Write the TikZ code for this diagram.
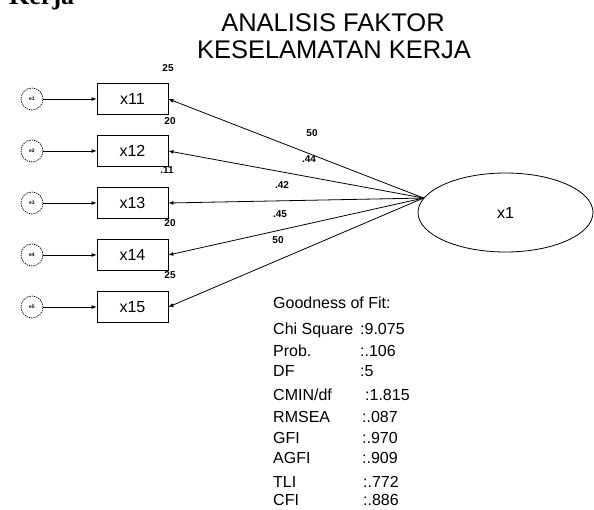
\documentclass[tikz,border=0pt]{standalone}
\usepackage{fontspec}
\setmainfont{Liberation Sans}
\newfontfamily\capserif{Liberation Serif}
\usetikzlibrary{arrows.meta,shapes.geometric}

\begin{document}
\begin{tikzpicture}[x=1pt,y=1pt,
  indic/.style={draw, line width=0.8pt, minimum width=71pt, minimum height=31pt, inner sep=0pt, font=\fontsize{16}{16}\selectfont},
  errc/.style={draw, circle, line width=0.7pt, dash pattern=on 1.3pt off 1pt, minimum size=22pt, inner sep=0pt, font=\fontsize{5}{5}\selectfont\bfseries},
  est/.style={inner sep=0pt, font=\fontsize{10}{10}\selectfont\bfseries},
  fit/.style={anchor=base west, inner sep=0pt, font=\fontsize{16}{16}\selectfont},
  load/.style={line width=0.8pt, -{Latex[length=5pt,width=4pt]}}]
\useasboundingbox (0,0) rectangle (594,509);
% heading
\node[anchor=base west, inner sep=0pt, font=\capserif\bfseries\fontsize{26}{26}\selectfont] (kerja) at (9,504) {Kerja};
\node[inner sep=0pt, font=\fontsize{25.5}{25.5}\selectfont] (title1) at (333,486) {ANALISIS FAKTOR};
\node[inner sep=0pt, font=\fontsize{25.5}{25.5}\selectfont] (title2) at (334,459) {KESELAMATAN KERJA};
% latent variable
\node[draw, ellipse, line width=0.8pt, minimum width=175pt, minimum height=79pt, font=\fontsize{16}{16}\selectfont] (x1) at (505.5,296.5) {x1};
\coordinate (hub) at (x1.170);
% indicators and errors
\node[indic] (x11) at (132.5,410) {x11};
\node[indic] (x12) at (132.5,358) {x12};
\node[indic] (x13) at (132.5,306) {x13};
\node[indic] (x14) at (132.5,254) {x14};
\node[indic] (x15) at (132.5,202) {x15};
\node[errc] (e1) at (32,410) {e1};
\node[errc] (e2) at (32,358) {e2};
\node[errc] (e3) at (32,306) {e3};
\node[errc] (e4) at (32,254) {e4};
\node[errc] (e5) at (32,202) {e5};
\draw[load] (e1) -- (x11);
\draw[load] (e2) -- (x12);
\draw[load] (e3) -- (x13);
\draw[load] (e4) -- (x14);
\draw[load] (e5) -- (x15);
\draw[load] (hub) -- (x11.east);
\draw[load] (hub) -- (x12.east);
\draw[load] (hub) -- (x13.east);
\draw[load] (hub) -- (x14.east);
\draw[load] (hub) -- (x15.east);
% estimates
\node[est] (r11) at (168,441) {25};
\node[est] (r12) at (170,388) {20};
\node[est] (r13) at (167,339) {.11};
\node[est] (r14) at (170,286) {20};
\node[est] (r15) at (170,234) {25};
\node[est] (l11) at (312,376) {50};
\node[est] (l12) at (309,350) {.44};
\node[est] (l13) at (282,324) {.42};
\node[est] (l14) at (280,295) {.45};
\node[est] (l15) at (278,269) {50};
% goodness of fit
\node[fit] (gof) at (273,200) {Goodness of Fit:};
\node[fit] (chi) at (273,175) {Chi Square};
\node[fit] (prob) at (273,153) {Prob.};
\node[fit] (df) at (273,132) {DF};
\node[fit] (cmin) at (273,109) {CMIN/df};
\node[fit] (rmsea) at (273,87) {RMSEA};
\node[fit] (gfi) at (273,66) {GFI};
\node[fit] (agfi) at (273,46) {AGFI};
\node[fit] (tli) at (273,22) {TLI};
\node[fit] (cfi) at (273,4) {CFI};
\node[fit] (chiv) at (360,175) {:9.075};
\node[fit] (probv) at (360,153) {:.106};
\node[fit] (dfv) at (360,132) {:5};
\node[fit] (cminv) at (365,109) {:1.815};
\node[fit] (rmseav) at (362,87) {:.087};
\node[fit] (gfiv) at (362,66) {:.970};
\node[fit] (agfiv) at (362,46) {:.909};
\node[fit] (tliv) at (363,22) {:.772};
\node[fit] (cfiv) at (363,4) {:.886};
\end{tikzpicture}
\end{document}
